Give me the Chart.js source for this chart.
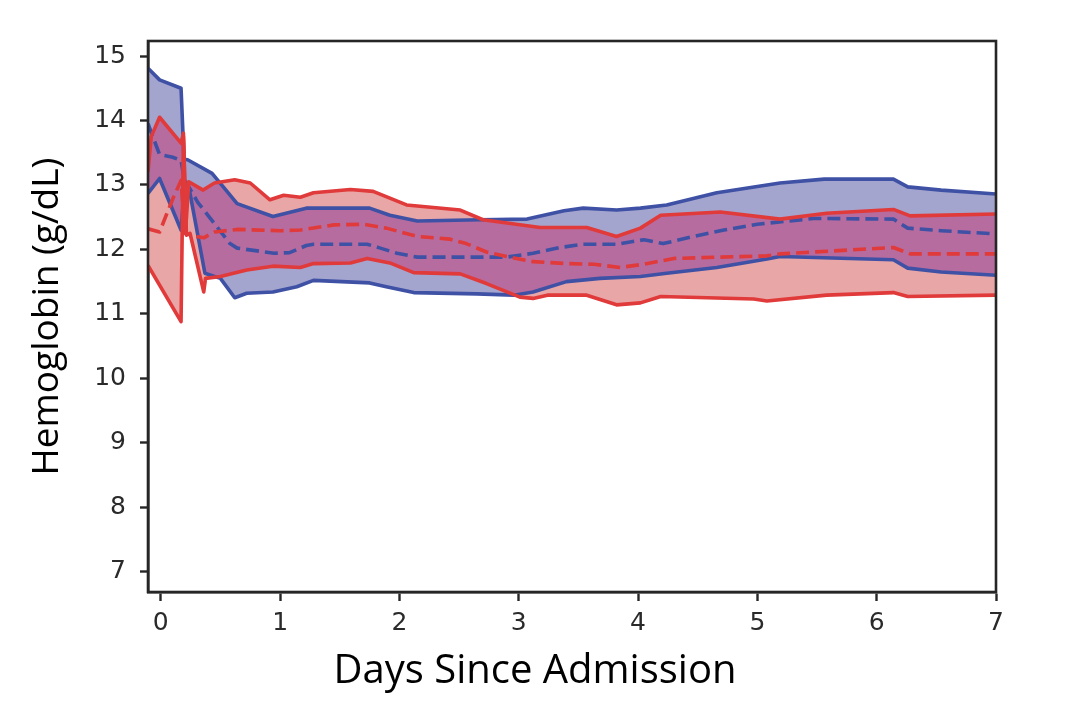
<!DOCTYPE html>
<html><head><meta charset="utf-8">
<script src="https://cdn.jsdelivr.net/npm/chart.js@4.4.1/dist/chart.umd.min.js"></script>
<style>html,body{margin:0;padding:0;background:#fff;}</style>
</head><body>
<canvas id="c" width="1080" height="726"></canvas>
<script>
// ---- data (day, hemoglobin g/dL) ----
const xTicks = [0, 1, 2, 3, 4, 5, 6, 7];
const yTicks = [7, 8, 9, 10, 11, 12, 13, 14, 15];
const xTitle = 'Days Since Admission';
const yTitle = 'Hemoglobin (g/dL)';

const redUpper = [[-0.107,13.2],[-0.08,13.75],[-0.01,14.05],[0.17,13.65],[0.19,13.80],[0.21,12.35],[0.235,13.05],[0.355,12.92],[0.45,13.03],[0.62,13.08],[0.75,13.03],[0.915,12.77],[1.03,12.84],[1.17,12.81],[1.28,12.88],[1.59,12.93],[1.78,12.90],[2.06,12.69],[2.51,12.61],[2.70,12.46],[3.18,12.34],[3.57,12.34],[3.82,12.20],[4.02,12.33],[4.19,12.53],[4.69,12.58],[5.19,12.47],[5.58,12.56],[6.14,12.62],[6.28,12.52],[7.0,12.55]];
const redMean = [[-0.107,12.32],[-0.01,12.27],[0.05,12.55],[0.10,12.78],[0.17,13.07],[0.20,12.25],[0.30,12.20],[0.36,12.18],[0.45,12.27],[0.64,12.31],[1.0,12.29],[1.17,12.30],[1.45,12.38],[1.70,12.39],[1.89,12.33],[2.15,12.20],[2.42,12.16],[2.56,12.09],[2.73,11.96],[2.90,11.89],[3.12,11.81],[3.40,11.78],[3.63,11.77],[3.85,11.72],[4.05,11.77],[4.30,11.86],[5.08,11.90],[5.19,11.93],[6.14,12.03],[6.28,11.93],[7.0,11.93]];
const redLower = [[-0.107,11.75],[0.17,10.88],[0.19,13.75],[0.215,12.22],[0.245,12.25],[0.36,11.34],[0.375,11.55],[0.50,11.58],[0.72,11.68],[0.94,11.74],[1.17,11.72],[1.28,11.78],[1.59,11.79],[1.73,11.86],[1.92,11.79],[2.12,11.64],[2.51,11.62],[2.73,11.47],[3.01,11.26],[3.12,11.24],[3.24,11.29],[3.57,11.29],[3.82,11.14],[4.02,11.17],[4.19,11.27],[4.97,11.23],[5.08,11.20],[5.58,11.29],[6.14,11.33],[6.26,11.27],[7.0,11.29]];

const blueUpper = [[-0.107,14.81],[-0.01,14.63],[0.17,14.50],[0.195,13.40],[0.225,13.39],[0.43,13.18],[0.64,12.71],[0.94,12.51],[1.22,12.64],[1.75,12.64],[1.92,12.53],[2.15,12.44],[2.68,12.46],[3.07,12.47],[3.38,12.60],[3.54,12.64],[3.82,12.61],[4.02,12.64],[4.24,12.69],[4.66,12.88],[5.19,13.03],[5.56,13.09],[6.14,13.09],[6.26,12.97],[6.54,12.92],[7.0,12.86]];
const blueMean = [[-0.107,13.95],[-0.01,13.47],[0.10,13.43],[0.17,13.38],[0.195,13.10],[0.31,12.73],[0.58,12.09],[0.64,12.02],[0.95,11.94],[1.08,11.95],[1.22,12.06],[1.28,12.08],[1.73,12.08],[1.84,12.02],[1.98,11.94],[2.15,11.88],[2.90,11.88],[3.12,11.94],[3.35,12.03],[3.54,12.08],[3.82,12.08],[4.05,12.15],[4.21,12.09],[4.44,12.19],[4.72,12.30],[5.0,12.39],[5.47,12.48],[6.14,12.47],[6.26,12.33],[6.54,12.29],[7.0,12.24]];
const blueLower = [[-0.107,12.87],[-0.01,13.10],[0.17,12.30],[0.20,12.97],[0.24,12.92],[0.37,11.63],[0.50,11.55],[0.62,11.25],[0.72,11.32],[0.94,11.34],[1.14,11.42],[1.28,11.52],[1.75,11.48],[1.89,11.42],[2.12,11.33],[2.65,11.31],[2.96,11.29],[3.12,11.34],[3.40,11.50],[3.68,11.55],[4.02,11.58],[4.24,11.63],[4.66,11.72],[5.08,11.85],[5.19,11.89],[6.14,11.84],[6.26,11.71],[6.54,11.65],[7.0,11.60]];

// ---- styling ----
const RED = '#E03A3A', BLUE = '#3F51A5';
const RED_FILL = '#E8A6A6', BLUE_FILL = '#A4A5CE', OVERLAP_FILL = '#B76C9F';
const AXIS = '#262626';

const pts = arr => arr.map(([x, y]) => ({x, y}));
function ds(label, arr, color, dashed, fill, fillColor) {
  return {
    label, data: pts(arr), borderColor: color, borderWidth: 3.6,
    borderDash: dashed ? [13, 6] : [], pointRadius: 0, tension: 0,
    borderJoinStyle: 'round', fill: fill || false,
    backgroundColor: fillColor || 'transparent'
  };
}

function bandPath(chart, iu, il) {
  const a = chart.getDatasetMeta(iu).data, b = chart.getDatasetMeta(il).data;
  const p = new Path2D();
  a.forEach((pt, i) => i ? p.lineTo(pt.x, pt.y) : p.moveTo(pt.x, pt.y));
  for (let i = b.length - 1; i >= 0; i--) p.lineTo(b[i].x, b[i].y);
  p.closePath();
  return p;
}
const overlapPlugin = {
  id: 'overlap',
  beforeDatasetsDraw(chart) {
    const {ctx, chartArea: ca} = chart;
    ctx.save();
    ctx.beginPath(); ctx.rect(ca.left, ca.top, ca.width, ca.height); ctx.clip();
    ctx.clip(bandPath(chart, 3, 5));
    ctx.fillStyle = OVERLAP_FILL;
    ctx.fill(bandPath(chart, 0, 2));
    ctx.restore();
  }
};
const framePlugin = {
  id: 'frame',
  afterDatasetsDraw(chart) {
    const {ctx, chartArea: ca} = chart;
    ctx.save();
    ctx.strokeStyle = AXIS; ctx.lineWidth = 2.6;
    ctx.strokeRect(ca.left, ca.top, ca.width, ca.height);
    ctx.restore();
  }
};

const tickFont = {family: 'DejaVu Sans', size: 25};
new Chart(document.getElementById('c'), {
  type: 'line',
  data: {
    datasets: [
      ds('red upper', redUpper, RED, false, '+2', RED_FILL),
      ds('red mean', redMean, RED, true),
      ds('red lower', redLower, RED, false),
      ds('blue upper', blueUpper, BLUE, false, '+2', BLUE_FILL),
      ds('blue mean', blueMean, BLUE, true),
      ds('blue lower', blueLower, BLUE, false)
    ]
  },
  options: {
    responsive: false, animation: false,
    layout: {padding: {top: 41, right: 10, bottom: 0, left: 0}},
    plugins: {
      legend: {display: false}, tooltip: {enabled: false},
      filler: {drawTime: 'beforeDatasetsDraw'},
      title: {display: true, position: 'bottom', text: xTitle, color: '#000',
        font: {family: 'Open Sans', size: 40, weight: 'normal', lineHeight: 1.2},
        padding: {top: 0, bottom: 30}}
    },
    scales: {
      x: {
        type: 'linear', min: -0.107, max: 7,
        afterBuildTicks: s => { s.ticks = xTicks.map(v => ({value: v})); },
        afterFit: s => { s.height = 56; },
        ticks: {font: tickFont, color: '#2a2a2a', padding: 7, maxRotation: 0, autoSkip: false},
        grid: {drawOnChartArea: false, drawTicks: true, tickLength: 9, tickWidth: 2.4, tickColor: AXIS},
        border: {display: true, color: AXIS, width: 2.6}
      },
      y: {
        type: 'linear', min: 6.685, max: 15.233,
        afterBuildTicks: s => { s.ticks = yTicks.map(v => ({value: v})); },
        afterFit: s => { s.width = 148; },
        ticks: {font: tickFont, color: '#2a2a2a', padding: 14, autoSkip: false},
        grid: {drawOnChartArea: false, drawTicks: true, tickLength: 8, tickWidth: 2.4, tickColor: AXIS},
        border: {display: true, color: AXIS, width: 2.6},
        title: {display: true, text: yTitle, color: '#000',
          font: {family: 'Open Sans', size: 37, weight: 'normal', lineHeight: 1.2},
          padding: {top: 25, bottom: 0}}
      },
      y2: {
        position: 'right', display: true,
        afterFit: s => { s.width = 74; },
        ticks: {display: false}, grid: {display: false, drawTicks: false}, border: {display: false}
      }
    }
  },
  plugins: [overlapPlugin, framePlugin]
});
</script>
</body></html>
